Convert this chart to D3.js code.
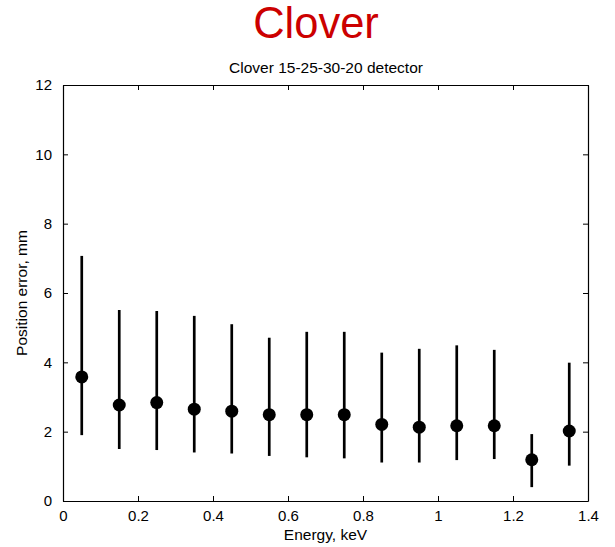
<!DOCTYPE html>
<html>
<head>
<meta charset="utf-8">
<script src="https://cdn.jsdelivr.net/npm/d3@7"></script>
<style>
  html, body { margin: 0; padding: 0; background: #fff; }
  svg { display: block; font-family: "Liberation Sans", Arial, sans-serif; }
</style>
</head>
<body>
<svg id="chart" width="615" height="547"></svg>
<script>
const energies = [0.05, 0.15, 0.25, 0.35, 0.45, 0.55, 0.65, 0.75, 0.85, 0.95, 1.05, 1.15, 1.25, 1.35];
const meanError = [3.58, 2.77, 2.84, 2.65, 2.59, 2.49, 2.49, 2.49, 2.21, 2.13, 2.17, 2.17, 1.19, 2.02];
const upperError = [7.07, 5.51, 5.48, 5.34, 5.10, 4.71, 4.88, 4.88, 4.28, 4.39, 4.49, 4.36, 1.93, 3.99];
const lowerError = [1.90, 1.50, 1.47, 1.40, 1.37, 1.30, 1.26, 1.23, 1.11, 1.11, 1.18, 1.21, 0.40, 1.02];
const xTicks = [0, 0.2, 0.4, 0.6, 0.8, 1, 1.2, 1.4];
const yTicks = [0, 2, 4, 6, 8, 10, 12];

const data = energies.map((e, i) => ({ x: e, y: meanError[i], hi: upperError[i], lo: lowerError[i] }));

const svg = d3.select("#chart");
const pLeft = 63, pRight = 588, pTop = 85, pBottom = 501;

const x = d3.scaleLinear().domain([0, 1.4]).range([pLeft, pRight]);
const y = d3.scaleLinear().domain([0, 12]).range([pBottom, pTop]);

// Titles
svg.append("text").attr("x", 316).attr("y", 38).attr("text-anchor", "middle")
  .attr("font-size", 43.5).attr("fill", "#cc0000").text("Clover");
svg.append("text").attr("x", 326).attr("y", 72.5).attr("text-anchor", "middle")
  .attr("font-size", 15.5).attr("fill", "#000").text("Clover 15-25-30-20 detector");

// Axes
const fmt = d => String(d);
const tickLen = 5;
const gB = svg.append("g").attr("transform", `translate(0,${pBottom})`)
  .call(d3.axisBottom(x).tickValues(xTicks).tickFormat(fmt).tickSizeInner(-tickLen).tickSizeOuter(0).tickPadding(9));
const gT = svg.append("g").attr("transform", `translate(0,${pTop})`)
  .call(d3.axisTop(x).tickValues(xTicks).tickFormat("").tickSizeInner(-tickLen).tickSizeOuter(0));
const gL = svg.append("g").attr("transform", `translate(${pLeft},0)`)
  .call(d3.axisLeft(y).tickValues(yTicks).tickFormat(fmt).tickSizeInner(-tickLen).tickSizeOuter(0).tickPadding(11));
const gR = svg.append("g").attr("transform", `translate(${pRight},0)`)
  .call(d3.axisRight(y).tickValues(yTicks).tickFormat("").tickSizeInner(-tickLen).tickSizeOuter(0));

[gB, gT, gL, gR].forEach(g => {
  g.selectAll("path.domain").attr("stroke", "#000").attr("stroke-width", 1.2);
  g.selectAll(".tick line").attr("stroke", "#000").attr("stroke-width", 1);
  g.selectAll(".tick text").attr("font-size", 15).attr("fill", "#000")
    .attr("font-family", "'Liberation Sans', Arial, sans-serif");
});

// Axis labels
svg.append("text").attr("x", 325.5).attr("y", 540).attr("text-anchor", "middle")
  .attr("font-size", 15.5).text("Energy, keV");
svg.append("text").attr("transform", `translate(27,${(pTop + pBottom) / 2}) rotate(-90)`)
  .attr("text-anchor", "middle").attr("font-size", 15.5).text("Position error, mm");

// Error bars
svg.append("g").selectAll("line").data(data).join("line")
  .attr("x1", d => x(d.x)).attr("x2", d => x(d.x))
  .attr("y1", d => y(d.hi)).attr("y2", d => y(d.lo))
  .attr("stroke", "#000").attr("stroke-width", 2.7);

// Markers
svg.append("g").selectAll("circle").data(data).join("circle")
  .attr("cx", d => x(d.x)).attr("cy", d => y(d.y)).attr("r", 6.5)
  .attr("fill", "#000");
</script>
</body>
</html>
